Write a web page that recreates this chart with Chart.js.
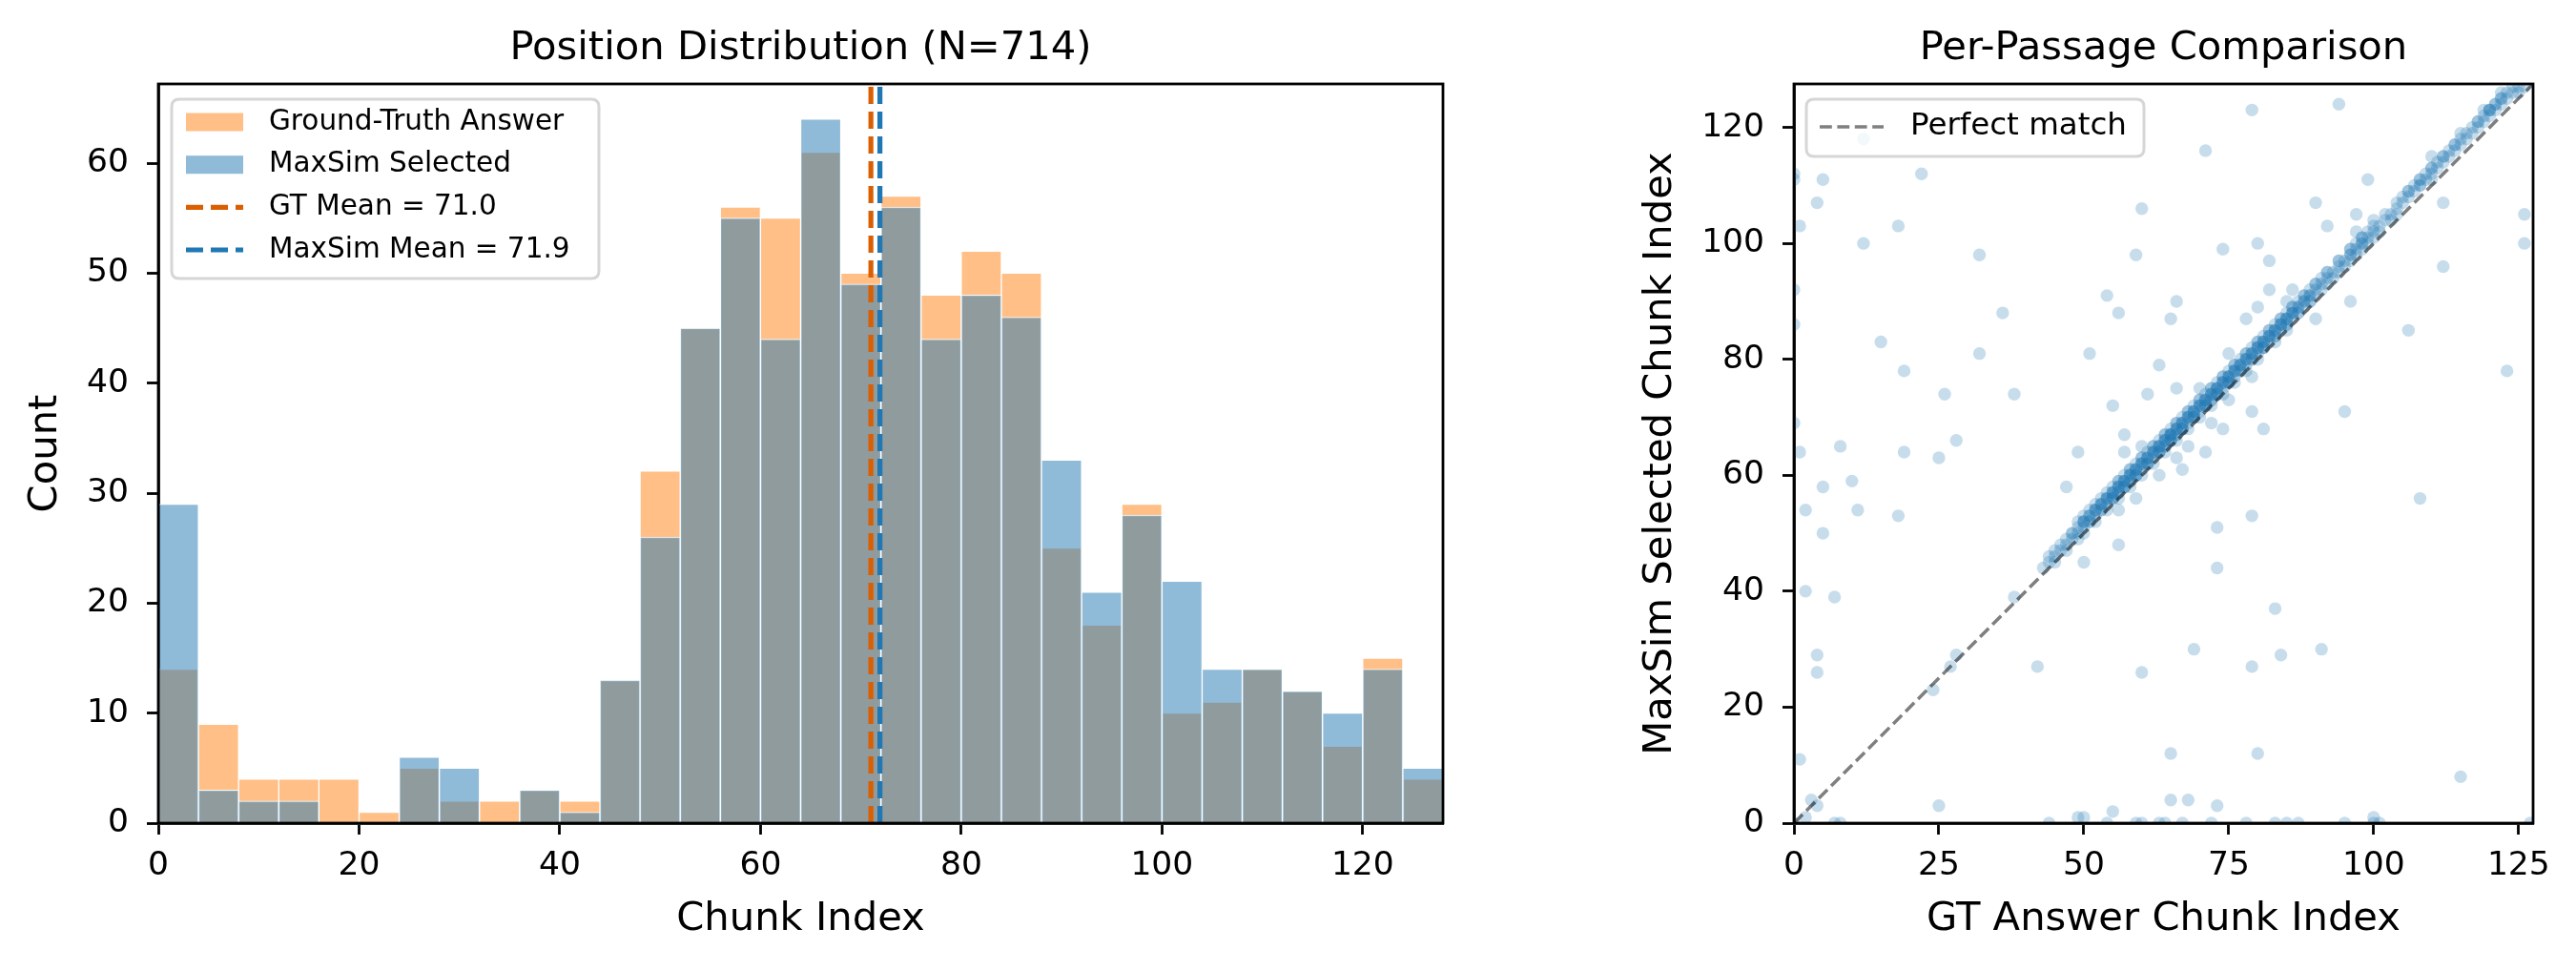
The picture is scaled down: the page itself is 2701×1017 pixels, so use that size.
<!DOCTYPE html>
<html>
<head>
<meta charset="utf-8">
<script src="https://cdn.jsdelivr.net/npm/chart.js@4.4.1/dist/chart.umd.min.js"></script>
<style>
html,body{margin:0;padding:0;background:#fff;}
#wrap{position:relative;width:2701px;height:1017px;overflow:hidden;background:#fff;}
#c1{position:absolute;left:0;top:0;}
#c2{position:absolute;left:1700px;top:0;}
</style>
</head>
<body>
<div id="wrap">
<canvas id="c1" width="1700" height="1017"></canvas>
<canvas id="c2" width="1001" height="1017"></canvas>
</div>
<script>
// ---------------- DATA ----------------
const binCenters = [2,6,10,14,18,22,26,30,34,38,42,46,50,54,58,62,66,70,74,78,82,86,90,94,98,102,106,110,114,118,122,126];
const gtCounts   = [14,9,4,4,4,1,5,2,2,3,2,13,32,45,56,55,61,50,57,48,52,50,25,18,29,10,11,14,12,7,15,4];
const msCounts   = [29,3,2,2,0,0,6,5,0,3,1,13,26,45,55,44,64,49,56,44,48,46,33,21,28,22,14,14,12,10,14,5];
const gtMean = 71.0;
const msMean = 71.9;
const histXTicks = [0,20,40,60,80,100,120];
const histYTicks = [0,10,20,30,40,50,60];
const scatterXTicks = [0,25,50,75,100,125];
const scatterYTicks = [0,20,40,60,80,100,120];

// per-passage points [GT answer chunk, MaxSim selected chunk]
const diagonalPoints = [
[43,44],[44,45],[44,46],[45,46],[45,47],[45,45],[46,47],[46,48],[47,48],[47,49],[47,47],
[48,49],[48,50],[48,50],[49,50],[49,51],[49,52],[49,49],[50,51],[50,52],[50,52],[50,53],[50,50],[51,52],[51,53],[51,54],[51,53],
[52,53],[52,54],[52,55],[52,54],[52,52],[53,54],[53,55],[53,55],[53,56],[53,54],[54,55],[54,56],[54,57],[54,56],[54,54],[55,56],[55,57],[55,58],[55,57],[55,56],
[56,57],[56,58],[56,59],[56,58],[56,56],[56,57],[57,58],[57,59],[57,60],[57,59],[57,58],[58,59],[58,60],[58,61],[58,60],[58,58],[58,59],[59,60],[59,61],[59,62],[59,61],[59,60],
[60,61],[60,62],[60,63],[60,62],[60,60],[61,62],[61,63],[61,64],[61,63],[61,62],[62,63],[62,64],[62,65],[62,64],[62,62],[63,64],[63,65],[63,66],[63,65],[63,64],
[64,65],[64,66],[64,67],[64,66],[64,64],[64,65],[65,66],[65,67],[65,68],[65,67],[65,66],[65,67],[66,67],[66,68],[66,69],[66,68],[66,66],[66,67],[67,68],[67,69],[67,70],[67,69],[67,68],
[68,69],[68,70],[68,71],[68,70],[68,68],[69,70],[69,71],[69,72],[69,71],[69,70],[70,71],[70,72],[70,73],[70,72],[70,70],[71,72],[71,73],[71,74],[71,73],[71,72],
[72,73],[72,74],[72,75],[72,74],[72,72],[72,73],[73,74],[73,75],[73,76],[73,75],[73,74],[74,75],[74,76],[74,77],[74,76],[74,74],[75,76],[75,77],[75,78],[75,77],[75,76],
[76,77],[76,78],[76,79],[76,78],[76,76],[77,78],[77,79],[77,80],[77,79],[78,79],[78,80],[78,81],[78,80],[78,78],[79,80],[79,81],[79,82],[79,81],
[80,81],[80,82],[80,83],[80,82],[80,80],[81,82],[81,83],[81,84],[81,83],[81,82],[82,83],[82,84],[82,85],[82,84],[83,84],[83,85],[83,86],[83,85],[83,83],
[84,85],[84,86],[84,87],[84,86],[85,86],[85,87],[85,88],[85,87],[85,85],[86,87],[86,88],[86,89],[86,88],[87,88],[87,89],[87,90],[87,88],
[88,89],[88,90],[88,91],[89,90],[89,91],[89,92],[89,90],[90,91],[90,92],[90,93],[91,92],[91,93],[91,94],
[92,93],[92,94],[92,95],[93,94],[93,95],[94,95],[94,96],[94,97],[95,96],[95,97],
[96,97],[96,98],[96,99],[96,98],[97,98],[97,99],[97,100],[98,99],[98,100],[98,101],[98,100],[99,100],[99,101],[99,102],
[100,101],[100,102],[101,103],[101,102],[102,104],[103,105],[103,104],[104,106],[104,105],[105,107],[105,108],[106,108],[106,109],[107,109],[107,110],
[108,110],[108,111],[108,110],[109,111],[109,112],[110,112],[110,113],[110,111],[111,113],[111,114],
[112,114],[112,115],[113,115],[113,116],[114,116],[114,117],[115,117],[115,118],[116,118],[117,119],[117,120],[118,120],[119,121],[119,122],
[120,122],[120,123],[120,123],[121,123],[121,124],[121,124],[122,124],[122,125],[123,125],[123,126],[124,126],[125,127],[125,126],[126,127],
[50,52],[51,52],[52,54],[53,55],[54,56],[55,57],[56,58],[57,59],[58,60],[59,61],[60,62],[61,63],[62,64],[63,65],[64,66],[65,67],[66,68],[67,69],[68,70],[69,71],
[70,72],[71,73],[72,74],[73,75],[74,76],[75,77],[76,78],[77,79],[78,80],[79,81],[80,82],[81,83],[82,84],[83,85],[84,86],[85,87],[86,88],[87,89],[88,90],[89,91],
[55,56],[57,58],[59,60],[61,62],[63,64],[65,66],[67,68],[69,70],[71,72],[73,74],[75,76],[77,78],[79,80],[81,82],[83,84],[85,86],
[56,59],[58,61],[60,63],[62,65],[64,67],[66,69],[68,71],[70,73],[72,75],[74,77],[76,79],[78,81],[80,83],[82,85],[84,87],[86,89],[88,91],[90,93],[92,95],[94,97],
[96,99],[98,101],[100,103],[102,105],[104,107],[106,109],[108,111],[110,113],[112,115],[114,117],[116,119],[118,121],[120,123],[122,125],[124,127],
[60,65],[63,60],[70,75],[75,73],[85,90],[90,87],[100,104],[110,115],[118,121],[115,119],[122,126],[119,123],[66,63],[79,77],
[24,23],[27,27],[28,29],[38,39],[3,4],[4,3]
];
const offDiagonalPoints = [
[79,123],[94,124],[12,118],[71,116],[0,112],[0,111],[5,111],[22,112],[4,107],[60,106],[99,111],[90,107],[112,107],[97,105],[126,105],[126,100],
[1,103],[18,103],[12,100],[32,98],[59,98],[74,99],[80,100],[82,97],[92,103],[97,102],[112,96],[0,92],[54,91],[66,90],[82,92],[86,92],[96,90],
[106,85],[56,88],[65,87],[36,88],[78,87],[80,89],[0,86],[15,83],[32,81],[51,81],[63,79],[75,81],[123,78],[19,78],[26,74],[38,74],[61,74],[66,75],
[55,72],[79,71],[95,71],[81,68],[72,69],[74,68],[57,67],[49,64],[28,66],[8,65],[19,64],[25,63],[1,64],[0,69],[71,64],[68,65],[57,64],
[5,58],[10,59],[2,54],[11,54],[5,50],[18,53],[47,58],[59,56],[56,48],[50,45],[56,54],[67,61],[108,56],[73,51],[79,53],[73,44],
[2,40],[7,39],[83,37],[69,30],[91,30],[84,29],[79,27],[60,26],[42,27],[4,29],[4,26],[65,12],[80,12],[115,8],[1,11],
[25,3],[65,4],[68,4],[73,3],[49,1],[55,2],[50,1],[2,1],[0,0],[7,0],[8,0],[44,0],[54,0],[59,0],[60,0],[63,0],[64,0],[67,0],
[72,0],[78,0],[83,0],[85,0],[87,0],[95,0],[100,0],[101,0],[127,0],[100,1]
];
const histXMax = 128;
const histYMax = 67.2;
const scatterMax = 127.5;

// ---------------- STYLE ----------------
const FONT = "'DejaVu Sans', sans-serif";
const GT_FILL = 'rgba(255,127,14,0.5)';
const MS_FILL = 'rgba(31,119,180,0.5)';
const GT_LINE = '#d95f02';
const MS_LINE = '#1f77b4';

function axis(pos, min, max, tickVals, title, titlePad, tickPad, fitSize) {
  return {
    type: 'linear', position: pos, min: min, max: max, offset: false,
    grid: {display: true, offset: false, drawOnChartArea: false, drawTicks: true, tickLength: 12, tickWidth: 2.8, tickColor: '#000', color: '#000'},
    border: {display: true, color: '#000', width: 2.8},
    ticks: {color: '#000', font: {family: FONT, size: 34.5}, padding: tickPad, autoSkip: false, maxRotation: 0, minRotation: 0, includeBounds: false},
    afterBuildTicks: function (s) { s.ticks = tickVals.map(function (v) { return {value: v}; }); },
    afterFit: function (s) { if (pos === 'bottom') s.height = fitSize; else s.width = fitSize; },
    title: {display: true, text: title, color: '#000', font: {family: FONT, size: 41.7, weight: 'normal'},
      padding: pos === 'bottom' ? {top: 0, bottom: titlePad} : {top: titlePad, bottom: 0}}
  };
}

const framePlugin = {
  id: 'frame',
  afterDatasetsDraw: function (chart) {
    const ctx = chart.ctx, a = chart.chartArea;
    ctx.save();
    ctx.strokeStyle = '#000';
    ctx.lineWidth = 2.8;
    ctx.strokeRect(a.left, a.top, a.right - a.left, a.bottom - a.top);
    ctx.restore();
  }
};

// axes title centred over the plot area (like matplotlib's set_title)
const axTitlePlugin = {
  id: 'axTitle',
  afterDraw: function (chart, args, opts) {
    const ctx = chart.ctx, a = chart.chartArea;
    ctx.save();
    ctx.fillStyle = '#000';
    ctx.font = '41.7px ' + FONT;
    ctx.textAlign = 'center';
    ctx.textBaseline = 'alphabetic';
    ctx.fillText(opts.text, (a.left + a.right) / 2, 61.5);
    ctx.restore();
  }
};

function roundRectPath(ctx, x, y, w, h, r) {
  ctx.beginPath();
  ctx.moveTo(x + r, y);
  ctx.lineTo(x + w - r, y);
  ctx.quadraticCurveTo(x + w, y, x + w, y + r);
  ctx.lineTo(x + w, y + h - r);
  ctx.quadraticCurveTo(x + w, y + h, x + w - r, y + h);
  ctx.lineTo(x + r, y + h);
  ctx.quadraticCurveTo(x, y + h, x, y + h - r);
  ctx.lineTo(x, y + r);
  ctx.quadraticCurveTo(x, y, x + r, y);
  ctx.closePath();
}

function legendPlugin(id, box, rows, handleX, handleW, textX, fontSize) {
  return {
    id: id,
    afterDraw: function (chart) {
      const ctx = chart.ctx;
      ctx.save();
      roundRectPath(ctx, box[0], box[1], box[2], box[3], 8);
      ctx.fillStyle = 'rgba(255,255,255,0.8)';
      ctx.fill();
      ctx.lineWidth = 3;
      ctx.strokeStyle = '#d6d6d6';
      ctx.stroke();
      const items = chart.data.datasets.filter(function (d) { return d.legendRow !== undefined; })
        .sort(function (a, b) { return a.legendRow - b.legendRow; });
      items.forEach(function (d, i) {
        const y = rows[i];
        if (d.type === 'bar') {
          ctx.fillStyle = d.backgroundColor;
          ctx.fillRect(handleX, y - 9.5, handleW, 19);
        } else {
          ctx.beginPath();
          ctx.setLineDash(d.legendDash);
          ctx.lineWidth = d.borderWidth;
          ctx.strokeStyle = d.borderColor;
          ctx.moveTo(handleX, y);
          ctx.lineTo(handleX + handleW, y);
          ctx.stroke();
          ctx.setLineDash([]);
        }
        ctx.fillStyle = '#000';
        ctx.font = fontSize + 'px ' + FONT;
        ctx.textAlign = 'left';
        ctx.textBaseline = 'middle';
        ctx.fillText(d.label, textX, y);
      });
      ctx.restore();
    }
  };
}

// ---------------- CHART 1: histogram ----------------
const gtBars = binCenters.map(function (x, i) { return {x: x, y: gtCounts[i]}; });
const msBars = binCenters.map(function (x, i) { return {x: x, y: msCounts[i]}; });

new Chart(document.getElementById('c1'), {
  type: 'bar',
  data: {
    datasets: [
      {type: 'line', label: 'GT Mean = ' + gtMean.toFixed(1), data: [{x: gtMean, y: 0}, {x: gtMean, y: histYMax}],
        borderColor: GT_LINE, borderWidth: 5.2, borderDash: [18, 8], legendDash: [18, 8], pointRadius: 0, fill: false, order: 0, clip: 0, legendRow: 2, borderCapStyle: 'butt'},
      {type: 'line', label: 'MaxSim Mean = ' + msMean.toFixed(1), data: [{x: msMean, y: 0}, {x: msMean, y: histYMax}],
        borderColor: MS_LINE, borderWidth: 5.2, borderDash: [18, 8], legendDash: [18, 8], pointRadius: 0, fill: false, order: 0, clip: 0, legendRow: 3, borderCapStyle: 'butt'},
      {type: 'bar', label: 'MaxSim Selected', data: msBars, backgroundColor: MS_FILL, borderColor: 'rgba(255,255,255,0.85)', borderWidth: 1,
        grouped: false, barPercentage: 1, categoryPercentage: 1, order: 1, clip: 0, legendRow: 1},
      {type: 'bar', label: 'Ground-Truth Answer', data: gtBars, backgroundColor: GT_FILL, borderColor: 'rgba(255,255,255,0.85)', borderWidth: 1,
        grouped: false, barPercentage: 1, categoryPercentage: 1, order: 2, clip: 0, legendRow: 0}
    ]
  },
  options: {
    responsive: false, animation: false, devicePixelRatio: 1, events: [],
    layout: {padding: {left: 0, right: 187, top: 88, bottom: 0}},
    scales: {
      x: axis('bottom', 0, histXMax, histXTicks, 'Chunk Index', 27.4, 12, 154),
      y: axis('left', 0, histYMax, histYTicks, 'Count', 23.5, 19, 166)
    },
    plugins: {
      legend: {display: false}, tooltip: {enabled: false}, title: {display: false},
      axTitle: {text: 'Position Distribution (N=714)'}
    }
  },
  plugins: [framePlugin, axTitlePlugin, legendPlugin('histLegend', [180, 104, 448, 188], [128, 172.7, 217.4, 262], 195, 60, 282, 29.5)]
});

// ---------------- CHART 2: scatter ----------------
const scatterData = diagonalPoints.concat(offDiagonalPoints).map(function (p) { return {x: p[0], y: p[1]}; });

new Chart(document.getElementById('c2'), {
  type: 'scatter',
  data: {
    datasets: [
      {type: 'line', label: 'Perfect match', data: [{x: 0, y: 0}, {x: scatterMax, y: scatterMax}],
        borderColor: 'rgba(0,0,0,0.5)', borderWidth: 3.5, borderDash: [12.8, 5.6], legendDash: [12.8, 5.6], pointRadius: 0, fill: false, order: 0, clip: 0, legendRow: 0, borderCapStyle: 'butt'},
      {type: 'scatter', label: 'passages', data: scatterData, backgroundColor: 'rgba(31,119,180,0.25)', borderWidth: 0, pointRadius: 6.7, order: 1, clip: 0}
    ]
  },
  options: {
    responsive: false, animation: false, devicePixelRatio: 1, events: [],
    layout: {padding: {left: 0, right: 45, top: 88, bottom: 0}},
    scales: {
      x: axis('bottom', 0, scatterMax, scatterXTicks, 'GT Answer Chunk Index', 27.4, 12, 154),
      y: axis('left', 0, scatterMax, scatterYTicks, 'MaxSim Selected Chunk Index', 16.6, 19, 181)
    },
    plugins: {
      legend: {display: false}, tooltip: {enabled: false}, title: {display: false},
      axTitle: {text: 'Per-Passage Comparison'}
    }
  },
  plugins: [framePlugin, axTitlePlugin, legendPlugin('scatLegend', [194, 104, 354, 60], [133], 208, 67, 303, 32.5)]
});
</script>
</body>
</html>
